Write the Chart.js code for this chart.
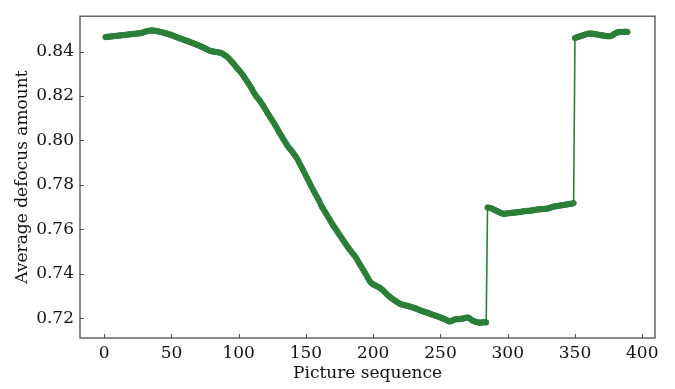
<!DOCTYPE html>
<html>
<head>
<meta charset="utf-8">
<script src="https://cdn.jsdelivr.net/npm/chart.js@4/dist/chart.umd.min.js"></script>
<style>
  html, body { margin: 0; padding: 0; background: #ffffff; }
  #wrap { width: 675px; height: 389px; }
</style>
</head>
<body>
<div id="wrap"><canvas id="chart" width="675" height="389"></canvas></div>
<script>
// Picture sequence starts at 1; one defocus value per picture.
const pictureStart = 1;
const defocusAmount = [
  0.8465,0.8466,0.8466,0.8467,0.8468,0.8468,0.8469,0.8470,0.8470,0.8471,
  0.8472,0.8472,0.8473,0.8474,0.8474,0.8475,0.8476,0.8477,0.8477,0.8478,
  0.8479,0.8479,0.8480,0.8481,0.8481,0.8482,0.8483,0.8484,0.8486,0.8488,
  0.8490,0.8492,0.8493,0.8494,0.8495,0.8495,0.8494,0.8493,0.8492,0.8491,
  0.8489,0.8488,0.8486,0.8485,0.8483,0.8481,0.8480,0.8478,0.8476,0.8475,
  0.8471,0.8469,0.8467,0.8465,0.8462,0.8460,0.8458,0.8456,0.8453,0.8451,
  0.8449,0.8447,0.8445,0.8442,0.8440,0.8438,0.8435,0.8433,0.8430,0.8428,
  0.8425,0.8423,0.8420,0.8417,0.8414,0.8411,0.8408,0.8405,0.8403,0.8401,
  0.8400,0.8399,0.8398,0.8397,0.8396,0.8395,0.8393,0.8390,0.8386,0.8382,
  0.8378,0.8373,0.8367,0.8360,0.8353,0.8346,0.8339,0.8331,0.8324,0.8317,
  0.8310,0.8303,0.8295,0.8286,0.8277,0.8268,0.8259,0.8249,0.8240,0.8230,
  0.8218,0.8208,0.8199,0.8191,0.8184,0.8176,0.8167,0.8158,0.8148,0.8138,
  0.8128,0.8118,0.8108,0.8099,0.8090,0.8080,0.8070,0.8060,0.8048,0.8038,
  0.8028,0.8018,0.8008,0.7998,0.7988,0.7978,0.7970,0.7963,0.7955,0.7948,
  0.7939,0.7931,0.7922,0.7912,0.7900,0.7888,0.7877,0.7865,0.7853,0.7841,
  0.7829,0.7817,0.7805,0.7793,0.7781,0.7770,0.7759,0.7748,0.7737,0.7726,
  0.7711,0.7700,0.7690,0.7680,0.7670,0.7660,0.7650,0.7640,0.7630,0.7620,
  0.7611,0.7602,0.7593,0.7584,0.7575,0.7566,0.7557,0.7548,0.7539,0.7530,
  0.7521,0.7513,0.7505,0.7497,0.7490,0.7482,0.7474,0.7464,0.7453,0.7443,
  0.7433,0.7423,0.7413,0.7403,0.7393,0.7382,0.7371,0.7362,0.7356,0.7352,
  0.7349,0.7346,0.7343,0.7340,0.7337,0.7332,0.7327,0.7321,0.7315,0.7309,
  0.7303,0.7298,0.7293,0.7288,0.7284,0.7280,0.7276,0.7272,0.7268,0.7264,
  0.7262,0.7261,0.7259,0.7258,0.7256,0.7254,0.7253,0.7251,0.7249,0.7247,
  0.7245,0.7243,0.7240,0.7238,0.7235,0.7233,0.7231,0.7229,0.7227,0.7225,
  0.7223,0.7221,0.7218,0.7216,0.7214,0.7212,0.7210,0.7208,0.7206,0.7203,
  0.7201,0.7198,0.7196,0.7193,0.7190,0.7187,0.7185,0.7187,0.7190,0.7193,
  0.7195,0.7196,0.7195,0.7196,0.7197,0.7198,0.7199,0.7200,0.7202,0.7203,
  0.7202,0.7198,0.7193,0.7189,0.7186,0.7184,0.7183,0.7181,0.7180,0.7180,
  0.7181,0.7182,0.7182,0.7181,
  0.7698,0.7697,0.7696,0.7694,0.7691,0.7688,
  0.7685,0.7682,0.7679,0.7676,0.7673,0.7671,0.7670,0.7670,0.7671,0.7672,
  0.7673,0.7673,0.7674,0.7675,0.7675,0.7676,0.7677,0.7677,0.7678,0.7679,
  0.7680,0.7681,0.7682,0.7682,0.7683,0.7683,0.7684,0.7685,0.7686,0.7687,
  0.7688,0.7689,0.7690,0.7690,0.7691,0.7691,0.7692,0.7692,0.7693,0.7694,
  0.7696,0.7698,0.7700,0.7702,0.7703,0.7704,0.7705,0.7706,0.7707,0.7708,
  0.7709,0.7710,0.7711,0.7712,0.7713,0.7714,0.7715,0.7716,0.7718,
  0.8461,0.8463,0.8465,0.8467,0.8469,0.8471,0.8473,0.8475,0.8477,0.8479,0.8480,
  0.8481,0.8481,0.8480,0.8479,0.8478,0.8477,0.8476,0.8475,0.8474,0.8473,
  0.8472,0.8471,0.8470,0.8469,0.8469,0.8469,0.8471,0.8474,0.8478,0.8482,
  0.8485,0.8487,0.8488,0.8488,0.8488,0.8488,0.8489,0.8489,0.8488
];
const xTickValues = [0, 50, 100, 150, 200, 250, 300, 350, 400];
const yTickValues = [0.72, 0.74, 0.76, 0.78, 0.80, 0.82, 0.84];

const lineGreen = '#2b7f38';
const frameColor = '#4d4d4d';
const textColor = '#111111';
const serif = "'DejaVu Serif', 'Liberation Serif', serif";

const points = defocusAmount.map((v, i) => ({ x: pictureStart + i, y: v }));

// Axes frame plus short inward tick marks, matplotlib style.
const framePlugin = {
  id: 'frame',
  afterDraw(chart) {
    const { ctx, chartArea: a, scales: { x, y } } = chart;
    ctx.save();
    ctx.strokeStyle = frameColor;
    ctx.lineWidth = 1.3;
    ctx.strokeRect(a.left, a.top, a.right - a.left, a.bottom - a.top);
    ctx.lineWidth = 1;
    ctx.beginPath();
    x.ticks.forEach(t => {
      const px = Math.round(x.getPixelForValue(t.value)) + 0.5;
      ctx.moveTo(px, a.bottom);
      ctx.lineTo(px, a.bottom - 4);
    });
    y.ticks.forEach(t => {
      const py = Math.round(y.getPixelForValue(t.value)) + 0.5;
      ctx.moveTo(a.left, py);
      ctx.lineTo(a.left + 4, py);
    });
    ctx.stroke();
    ctx.restore();
  }
};

new Chart(document.getElementById('chart'), {
  type: 'line',
  data: {
    datasets: [{
      data: points,
      borderColor: lineGreen,
      borderWidth: 1.6,
      pointRadius: 2.7,
      pointBorderWidth: 1,
      pointBackgroundColor: lineGreen,
      pointBorderColor: lineGreen,
      tension: 0,
      fill: false
    }]
  },
  options: {
    responsive: false,
    animation: false,
    devicePixelRatio: 1,
    layout: { padding: { top: 8, right: 20, left: 0, bottom: 0 } },
    plugins: { legend: { display: false }, tooltip: { enabled: false } },
    scales: {
      x: {
        type: 'linear',
        min: -18,
        max: 409.5,
        afterBuildTicks: s => { s.ticks = xTickValues.map(v => ({ value: v })); },
        afterFit: s => { s.height = 51; },
        grid: { display: false, drawTicks: false },
        border: { display: false },
        ticks: {
          padding: 5,
          color: textColor,
          font: { family: serif, size: 17 },
          callback: v => String(v)
        },
        title: {
          display: true,
          text: 'Picture sequence',
          color: textColor,
          font: { family: serif, size: 17 },
          padding: { top: 0, bottom: 5 }
        }
      },
      y: {
        type: 'linear',
        min: 0.7111,
        max: 0.8559,
        afterBuildTicks: s => { s.ticks = yTickValues.map(v => ({ value: v })); },
        afterFit: s => { s.width = 80; },
        grid: { display: false, drawTicks: false },
        border: { display: false },
        ticks: {
          padding: 6,
          color: textColor,
          font: { family: serif, size: 17 },
          callback: v => Number(v).toFixed(2)
        },
        title: {
          display: true,
          text: 'Average defocus amount',
          color: textColor,
          font: { family: serif, size: 17 },
          padding: { top: 12, bottom: 0 }
        }
      }
    }
  },
  plugins: [framePlugin]
});
</script>
</body>
</html>
